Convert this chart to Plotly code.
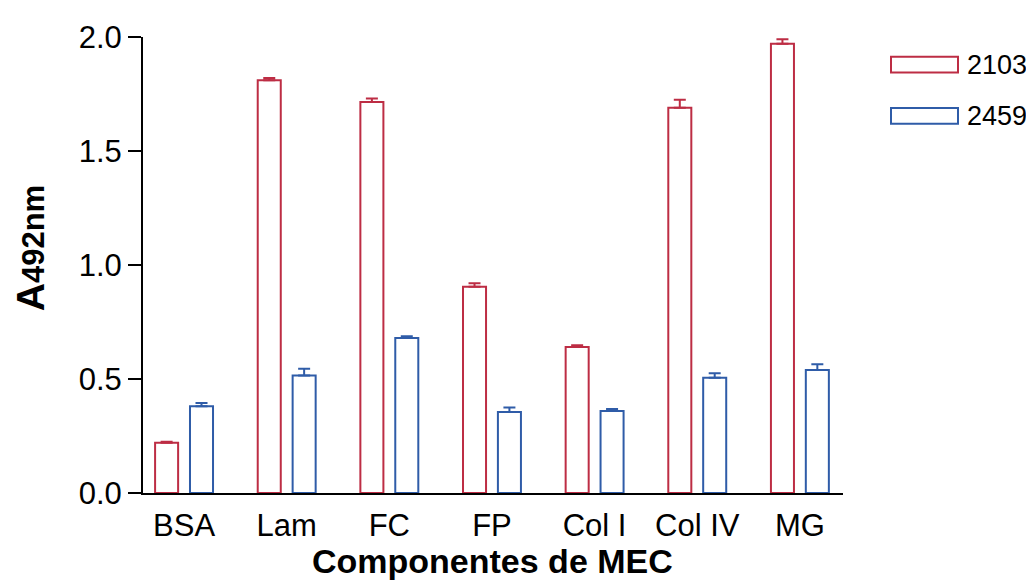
import plotly.graph_objects as go

categories = ["BSA", "Lam", "FC", "FP", "Col I", "Col IV", "MG"]
series_names = ["2103", "2459"]
values_2103 = [0.22, 1.81, 1.715, 0.905, 0.64, 1.69, 1.97]
errors_2103 = [0.005, 0.01, 0.015, 0.015, 0.008, 0.035, 0.02]
values_2459 = [0.38, 0.515, 0.68, 0.355, 0.36, 0.505, 0.54]
errors_2459 = [0.015, 0.03, 0.007, 0.02, 0.008, 0.02, 0.025]
y_ticks = [0.0, 0.5, 1.0, 1.5, 2.0]
y_tick_labels = ["0.0", "0.5", "1.0", "1.5", "2.0"]

RED = "#bd2d44"
BLUE = "#2f5ca8"
FONT = "Liberation Sans, Arial, sans-serif"

OFF = 8  # page body margin offset
W, H = 1034 - OFF, 582 - OFF
L, R, T, B = 143 - OFF, 191, 31 - OFF, 89
PW, PH = W - L - R, H - T - B


def px(x):
    return (x - OFF - L) / PW


def py(y):
    return (H - B - (y - OFF)) / PH


fig = go.Figure()
for name, vals, errs, col in [
    (series_names[0], values_2103, errors_2103, RED),
    (series_names[1], values_2459, errors_2459, BLUE),
]:
    fig.add_trace(go.Bar(
        x=categories, y=vals, name=name,
        marker=dict(color="white", line=dict(color=col, width=2)),
        error_y=dict(type="data", array=errs, arrayminus=[0] * len(errs),
                     symmetric=False, color=col, thickness=2, width=6),
        showlegend=False,
    ))

fig.update_layout(
    width=W, height=H,
    margin=dict(l=L, r=R, t=T, b=B),
    paper_bgcolor="white", plot_bgcolor="white",
    barmode="group", bargap=0.32, bargroupgap=0.34,
    font=dict(family=FONT, color="black"),
)
fig.update_xaxes(
    range=[-0.4, 6.42], showline=True, linecolor="black", linewidth=2,
    showgrid=False, zeroline=False, ticks="outside", ticklen=4,
    tickcolor="rgba(0,0,0,0)", tickfont=dict(size=31, family=FONT),
)
fig.update_yaxes(
    range=[0, 2.0], showline=True, linecolor="black", linewidth=2,
    showgrid=False, zeroline=False, ticks="outside", ticklen=13, tickwidth=2,
    tickcolor="black", tickvals=y_ticks, ticktext=y_tick_labels,
    tickfont=dict(size=31, family=FONT),
)

# axis titles
fig.add_annotation(
    xref="paper", yref="paper", x=px(492), y=py(562),
    text="<b>Componentes de MEC</b>", showarrow=False,
    font=dict(size=34, family=FONT), xanchor="center", yanchor="middle",
)
fig.add_annotation(
    xref="paper", yref="paper", x=px(30), y=py(245),
    text="<b>A<span style='font-size:31px'>492nm</span></b>", showarrow=False,
    textangle=-90, font=dict(size=39, family=FONT), xanchor="center", yanchor="middle",
)

# legend drawn manually
for i, (name, col) in enumerate([(series_names[0], RED), (series_names[1], BLUE)]):
    y0, y1 = 51 + 52 * i, 67 + 52 * i
    fig.add_shape(type="rect", xref="paper", yref="paper",
                  x0=px(891), x1=px(958), y0=py(y1), y1=py(y0),
                  line=dict(color=col, width=2), fillcolor="white")
    fig.add_annotation(xref="paper", yref="paper", x=px(965), y=py((y0 + y1) / 2),
                       text=name, showarrow=False, xanchor="left", yanchor="middle",
                       font=dict(size=27, family=FONT))

fig.write_html("out.html")
